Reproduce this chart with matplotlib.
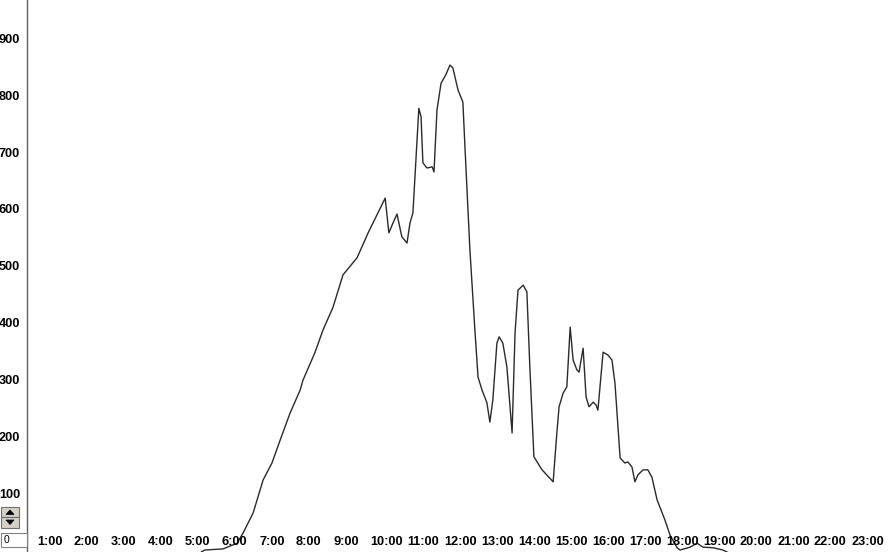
import matplotlib
matplotlib.use("Agg")
import matplotlib.pyplot as plt
from matplotlib.patches import Rectangle, Polygon
import matplotlib.transforms as mtransforms

# ---- data (hour of day, value) ----
hours = [5.45, 5.54, 6.03, 6.41, 6.57, 6.84, 7.11, 7.35, 7.57, 7.84, 8.11, 8.19,
         8.51, 8.73, 9.00, 9.27, 9.65, 9.95, 10.41, 10.51, 10.62, 10.73, 10.86,
         11.00, 11.08, 11.16, 11.32, 11.38, 11.43, 11.54, 11.68, 11.73, 11.81,
         11.92, 12.05, 12.16, 12.24, 12.38, 12.51, 12.57, 12.70, 12.84, 12.92,
         13.03, 13.16, 13.24, 13.32, 13.43, 13.49, 13.59, 13.70, 13.84, 13.92,
         14.00, 14.14, 14.24, 14.32, 14.43, 14.65, 14.95, 15.05, 15.11, 15.22,
         15.32, 15.41, 15.49, 15.59, 15.65, 15.76, 15.84, 15.92, 16.03, 16.11,
         16.16, 16.30, 16.43, 16.54, 16.62, 16.76, 16.89, 16.97, 17.08, 17.16,
         17.24, 17.38, 17.51, 17.62, 17.76, 17.97, 18.11, 18.30, 18.38, 18.65,
         18.84, 19.00, 19.27, 19.54, 19.66]
values = [-3, 0, 2, 12, 30, 65, 123, 153, 193, 241, 281, 299,
          347, 387, 427, 484, 514, 558, 619, 558, 575, 591, 551,
          540, 575, 593, 777, 762, 681, 672, 674, 665, 774,
          821, 836, 853, 848, 809, 788, 704, 528, 382, 304,
          281, 259, 225, 264, 364, 375, 364, 322, 206, 382,
          457, 466, 454, 322, 164, 141, 120, 206, 252, 276,
          287, 392, 334, 317, 313, 355, 269, 252, 260, 255,
          246, 348, 343, 334, 294, 162, 153, 155, 146, 120,
          132, 141, 141, 128, 88, 53, 26, 4, 0, 5,
          12, 5, 4, 0, -4]

y_ticks = [100, 200, 300, 400, 500, 600, 700, 800, 900]
x_tick_hours = list(range(1, 24))
x_tick_labels = [f"{h}:00" for h in x_tick_hours]

W, H = 888, 552
fig = plt.figure(figsize=(W / 100, H / 100), dpi=100)
ax = fig.add_axes([0, 0, 1, 1])
ax.set_facecolor("white")
ax.plot(hours, values, color="#2a2a2a", lw=1.0, solid_joinstyle="round")
ax.set_xlim(0, 24)
ax.set_ylim(-3.5, 967.5)

for s in ("top", "right", "bottom"):
    ax.spines[s].set_visible(False)
ax.spines["left"].set_position(("data", 27 / 37))
ax.spines["left"].set_color("#606060")
ax.spines["left"].set_linewidth(1.0)

font = dict(family=["Liberation Sans", "DejaVu Sans"], weight="bold", size=9.2)
ax.set_yticks(y_ticks)
ax.set_yticklabels([str(v) for v in y_ticks], fontdict=font)
ax.tick_params(axis="y", length=0, pad=5)
ax.set_xticks([])

trans = mtransforms.blended_transform_factory(ax.transData, ax.transAxes)
for h, lab in zip(x_tick_hours, x_tick_labels):
    ax.text(h, (H - 541.7) / H, lab, transform=trans, ha="left", va="center",
            **font)


def fx(x):
    return x / W


def fy(y):
    return 1 - y / H


def rect(x0, y0, x1, y1, **kw):
    fig.add_artist(Rectangle((fx(x0), fy(y1)), fx(x1) - fx(x0), fy(y0) - fy(y1),
                             transform=fig.transFigure, **kw))


# spinner buttons
rect(1, 507, 19, 517, facecolor="#d4d0c8", edgecolor="#707070", lw=0.8, zorder=5)
rect(1, 517, 19, 528, facecolor="#d4d0c8", edgecolor="#707070", lw=0.8, zorder=5)
fig.add_artist(Polygon([(fx(6), fy(514.5)), (fx(14), fy(514.5)), (fx(10), fy(510))],
                       closed=True, facecolor="black", edgecolor="black", lw=0.5,
                       transform=fig.transFigure, zorder=6))
fig.add_artist(Polygon([(fx(6), fy(520)), (fx(14), fy(520)), (fx(10), fy(524.5))],
                       closed=True, facecolor="black", edgecolor="black", lw=0.5,
                       transform=fig.transFigure, zorder=6))
# value box
rect(1, 533, 27, 547, facecolor="white", edgecolor="#808080", lw=0.8, zorder=5)
fig.text(fx(3.5), fy(540), "0", ha="left", va="center",
         family=["Liberation Sans", "DejaVu Sans"], size=7.5, zorder=6)

fig.savefig("out.png", dpi=100, facecolor="white")
